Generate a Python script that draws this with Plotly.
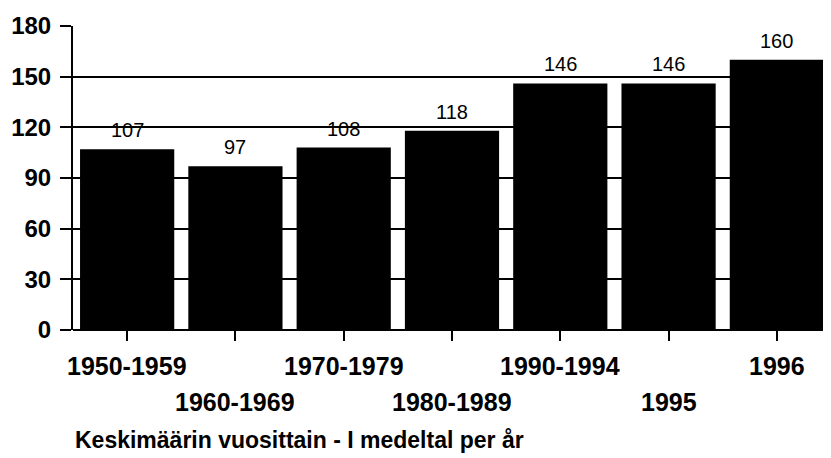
import plotly.graph_objects as go

categories = ["1950-1959", "1960-1969", "1970-1979", "1980-1989", "1990-1994", "1995", "1996"]
values = [107, 97, 108, 118, 146, 146, 160]
y_ticks = [0, 30, 60, 90, 120, 150, 180]
x_title = "Keskimäärin vuosittain - I medeltal per år"

FONT = "Liberation Sans, Arial, sans-serif"

fig = go.Figure()
fig.add_trace(go.Bar(
    x=list(range(len(categories))), y=values,
    marker=dict(color="black", line=dict(width=0)),
    hoverinfo="skip",
))

annotations = []
for i, v in enumerate(values):
    annotations.append(dict(
        x=i, y=v, xref="x", yref="y", text=str(v), showarrow=False,
        yanchor="bottom", yshift=6, font=dict(family=FONT, size=20, color="black"),
    ))
for i, c in enumerate(categories):
    annotations.append(dict(
        x=i, y=0, xref="x", yref="paper", text="<b>%s</b>" % c, showarrow=False,
        yanchor="middle", yshift=-36 if i % 2 == 0 else -72,
        font=dict(family=FONT, size=25, color="black"),
    ))
annotations.append(dict(
    x=0, y=0, xref="paper", yref="paper", text="<b>%s</b>" % x_title, showarrow=False,
    xanchor="left", yanchor="middle", xshift=0, yshift=-110,
    font=dict(family=FONT, size=23, color="black"),
))

fig.update_layout(
    width=831, height=458,
    margin=dict(l=65, r=8, t=18, b=136, autoexpand=False),
    paper_bgcolor="white", plot_bgcolor="white",
    bargap=0.13, showlegend=False,
    annotations=annotations,
    font=dict(family=FONT, color="black"),
)
fig.update_xaxes(
    range=[-0.5, 6.5], tickvals=list(range(len(categories))), automargin=False,
    showticklabels=False, ticks="outside", ticklen=10, tickwidth=1.5, tickcolor="black",
    showgrid=False, showline=False, zeroline=False,
)
fig.update_yaxes(
    range=[0, 180], tickvals=y_ticks, ticktext=["<b>%d</b>" % t for t in y_ticks],
    automargin=False,
    ticks="outside", ticklen=11, tickwidth=1.5, tickcolor="black",
    tickfont=dict(family=FONT, size=24, color="black"),
    ticklabelstandoff=4,
    showgrid=True, gridcolor="black", gridwidth=1.5,
    showline=True, linecolor="black", linewidth=2,
    zeroline=True, zerolinecolor="black", zerolinewidth=2,
)

fig.write_html("out.html")
